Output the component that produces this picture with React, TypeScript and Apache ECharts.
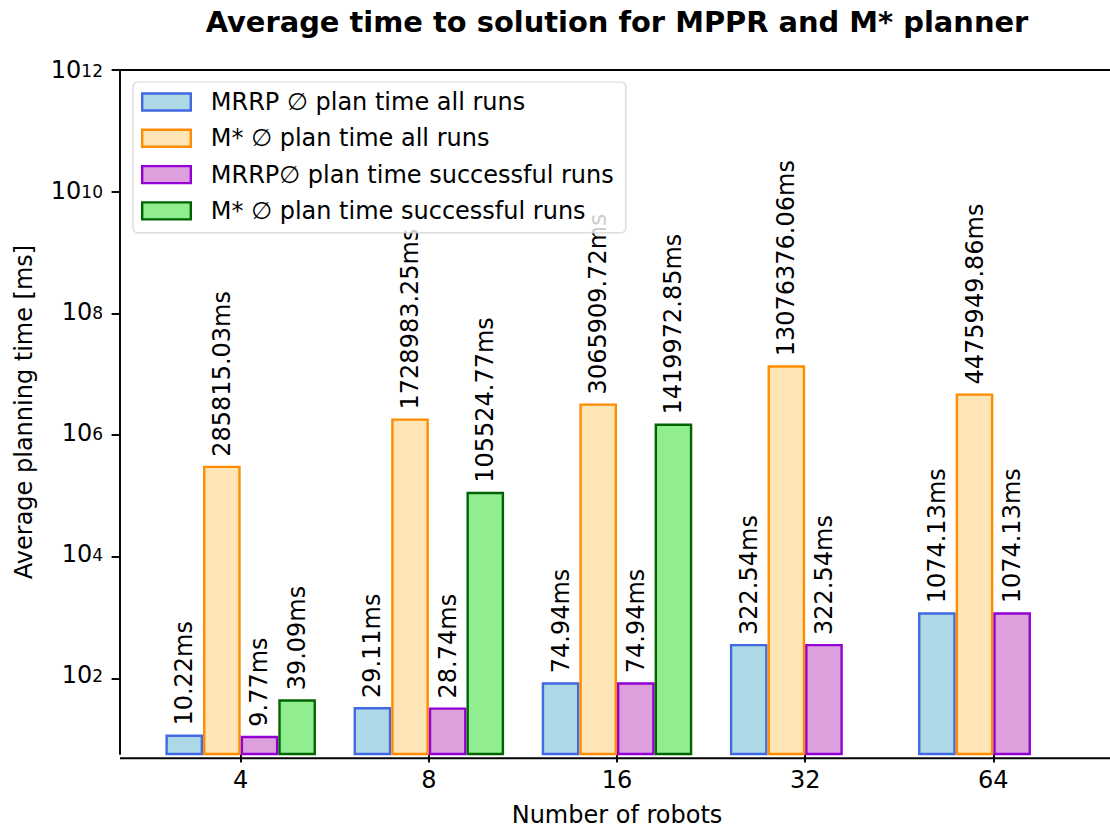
import React, { useEffect, useRef } from "react";
import * as echarts from "echarts";

const categories = ["4", "8", "16", "32", "64"];
const mrrpAll = [10.22, 29.11, 74.94, 322.54, 1074.13];
const mstarAll = [285815.03, 1728983.25, 3065909.72, 13076376.06, 4475949.86];
const mrrpSuccess = [9.77, 28.74, 74.94, 322.54, 1074.13];
const mstarSuccess: (number | null)[] = [39.09, 105524.77, 1419972.85, null, null];
const yTickValues = [1e2, 1e4, 1e6, 1e8, 1e10, 1e12];
const yMin = 4.88;
const yMax = 1e12;

const seriesNames = [
  "MRRP \u2205 plan time all runs",
  "M* \u2205 plan time all runs",
  "MRRP\u2205 plan time successful runs",
  "M* \u2205 plan time successful runs",
];
const fills = ["#ADD8E6", "#FFE4B5", "#DDA0DD", "#90EE90"];
const edges = ["#4169E1", "#FF8C00", "#9400D3", "#006400"];

const FONT = "DejaVu Sans";
const W = 1110;
const H = 832;
const PLOT_TOP = 70;
const PLOT_BOTTOM = 758.3;
const SPINE_X = 120;

export default function App() {
  const ref = useRef<HTMLDivElement>(null);
  useEffect(() => {
    if (!ref.current) return;
    const chart = echarts.init(ref.current, null, { renderer: "svg" });
    const datasets = [mrrpAll, mstarAll, mrrpSuccess, mstarSuccess];
    const series = datasets.map((d, i) => ({
      name: seriesNames[i],
      type: "bar",
      xAxisIndex: 0,
      yAxisIndex: 0,
      data: d,
      barGap: "0%",
      barCategoryGap: "20%",
      clip: true,
      itemStyle: { color: fills[i], borderColor: edges[i], borderWidth: 2.4 },
      label: {
        show: true,
        position: "top",
        rotate: 90,
        align: "left",
        verticalAlign: "middle",
        distance: 9,
        fontSize: 24,
        color: "#000",
        fontFamily: FONT,
        formatter: (p: any) => (p.value == null ? "" : Number(p.value).toFixed(2) + "ms"),
      },
    }));
    const tickStyle = { color: "#000", width: 1.93 };
    const lMin = Math.log10(yMin);
    const lMax = Math.log10(yMax);
    const lFirst = Math.log10(yTickValues[0]);
    const decadePx = (PLOT_BOTTOM - PLOT_TOP) / (lMax - lMin);
    const firstTickY = PLOT_BOTTOM - (lFirst - lMin) * decadePx;
    chart.setOption({
      animation: false,
      textStyle: { fontFamily: FONT },
      title: {
        text: "Average time to solution for MPPR and M* planner",
        left: 617,
        top: 7,
        padding: 0,
        textAlign: "center",
        textStyle: { fontSize: 28.9, fontWeight: "bold", color: "#000", fontFamily: FONT, lineHeight: 29 },
      },
      legend: {
        orient: "vertical",
        left: 133,
        top: 82,
        padding: [8, 12, 10, 8],
        itemGap: 12.3,
        itemWidth: 48.6,
        itemHeight: 17,
        icon: "rect",
        selectedMode: false,
        backgroundColor: "rgba(255,255,255,0.8)",
        borderColor: "rgba(204,204,204,0.8)",
        borderWidth: 1.2,
        borderRadius: 5,
        textStyle: { fontSize: 24, color: "#000", lineHeight: 24, fontFamily: FONT, padding: [0, 0, 0, 15] },
        data: seriesNames.map((n, i) => ({
          name: n,
          itemStyle: { color: fills[i], borderColor: edges[i], borderWidth: 2.4 },
        })),
      },
      grid: [
        { left: 146.6, right: 22.6, top: PLOT_TOP, bottom: H - PLOT_BOTTOM, containLabel: false },
        { left: SPINE_X, right: 0, top: PLOT_TOP, bottom: H - firstTickY, containLabel: false },
      ],
      xAxis: [
        {
          type: "category",
          gridIndex: 0,
          data: categories,
          axisLine: { show: false },
          axisTick: { show: true, alignWithLabel: true, length: 8.4, lineStyle: tickStyle },
          axisLabel: { fontSize: 24, color: "#000", margin: 14, fontFamily: FONT },
          splitLine: { show: false },
          name: "Number of robots",
          nameLocation: "middle",
          nameGap: 49,
          nameTextStyle: { fontSize: 24, color: "#000", fontFamily: FONT },
        },
        { type: "value", gridIndex: 1, show: false, min: 0, max: 1 },
      ],
      yAxis: [
        {
          type: "log",
          gridIndex: 0,
          logBase: 10,
          min: yMin,
          max: yMax,
          offset: 146.6 - SPINE_X,
          position: "left",
          axisLine: { show: true, lineStyle: tickStyle },
          axisTick: { show: false },
          minorTick: { show: false },
          splitLine: { show: false },
          axisLabel: {
            customValues: yTickValues,
            margin: 17,
            color: "#000",
            formatter: (v: number) => {
              const e = Math.round(Math.log10(v));
              return "{b|10}{s|" + e + "}";
            },
            rich: {
              b: { fontSize: 24, lineHeight: 24, color: "#000", fontFamily: FONT, padding: [9, 0, 0, 0], verticalAlign: "bottom" },
              s: { fontSize: 17, lineHeight: 17, color: "#000", fontFamily: FONT, padding: [4.5, 0, 0, 0], verticalAlign: "top" },
            },
          },
          name: "Average planning time [ms]",
          nameLocation: "middle",
          nameGap: 84,
          nameTextStyle: { fontSize: 24, color: "#000", fontFamily: FONT },
        },
        {
          // major tick marks on the even decades (exponent scale, aligned with the log axis)
          type: "value",
          gridIndex: 1,
          min: lFirst,
          max: lMax,
          interval: 2,
          position: "left",
          axisLine: { show: false },
          axisLabel: { show: false },
          splitLine: { show: false },
          axisTick: { show: true, length: 8.4, lineStyle: tickStyle },
        },
      ],
      graphic: [
        { type: "line", z: 100, shape: { x1: SPINE_X, y1: PLOT_TOP, x2: W, y2: PLOT_TOP }, style: { stroke: "#000", lineWidth: 1.93 } },
        { type: "line", z: 100, shape: { x1: SPINE_X, y1: PLOT_BOTTOM, x2: W, y2: PLOT_BOTTOM }, style: { stroke: "#000", lineWidth: 1.93 } },
      ],
      series,
    });
    return () => chart.dispose();
  }, []);
  return <div ref={ref} style={{ position: "absolute", left: 0, top: 0, width: W, height: H }} />;
}
